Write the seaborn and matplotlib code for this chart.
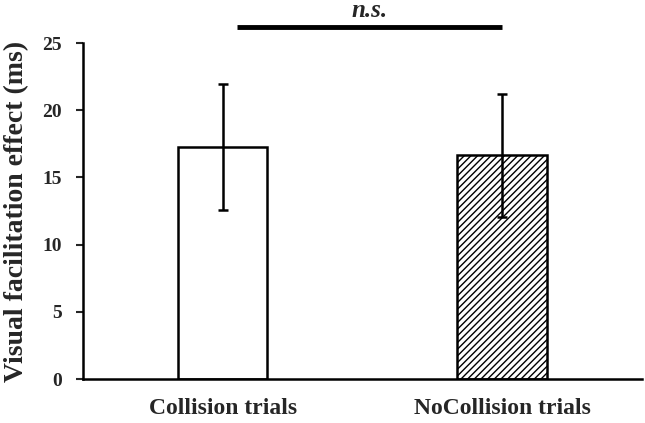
import matplotlib
matplotlib.use("Agg")
import matplotlib.pyplot as plt
import seaborn as sns
import pandas as pd

conditions = ["Collision trials", "NoCollision trials"]
means = [17.25, 16.65]
errors = [4.7, 4.6]
yticks = [0, 5, 10, 15, 20, 25]
sig_label = "n.s."

sns.set_style("ticks")
plt.rcParams['font.family'] = ['Liberation Serif', 'DejaVu Serif']
plt.rcParams['hatch.linewidth'] = 1.0
plt.rcParams['hatch.color'] = '#666666'

df = pd.DataFrame({"condition": conditions, "mean": means})

fig = plt.figure(figsize=(6.45, 4.23), dpi=100)
ax = fig.add_axes([0.1287, 0.104, 0.866, 0.794])

sns.barplot(data=df, x="condition", y="mean", ax=ax, errorbar=None,
            color="white", edgecolor="black", linewidth=1.8, width=0.32)
ax.patches[1].set_hatch("/////")
ax.errorbar(range(len(conditions)), means, yerr=errors, fmt="none",
            ecolor="black", elinewidth=1.8, capsize=3.5, capthick=1.8)

ax.set_xlim(-0.5, 1.5)
ax.set_ylim(0, 25)
ax.set_yticks(yticks)
ax.set_yticklabels([str(t) for t in yticks], fontsize=14, fontweight="bold")
ax.set_xticks(range(len(conditions)))
ax.set_xticklabels(conditions, fontsize=17, fontweight="bold")
ax.tick_params(axis="x", length=0, pad=14)
ax.tick_params(axis="y", length=5, width=1.5, pad=10)
ax.set_xlabel("")
ax.set_ylabel("Visual facilitation effect (ms)", fontsize=20, fontweight="bold", labelpad=10)
for s in ["top", "right"]:
    ax.spines[s].set_visible(False)
for s in ["left", "bottom"]:
    ax.spines[s].set_linewidth(1.8)
    ax.spines[s].set_color("black")

# significance bar
ax.plot([0.05, 1.0], [26.2, 26.2], color="black", lw=3.5, clip_on=False,
        solid_capstyle="butt")
ax.text(0.525, 27.45, sig_label, ha="center", va="center", fontsize=18,
        fontweight="bold", fontstyle="italic")

fig.savefig("out.png", dpi=100)
